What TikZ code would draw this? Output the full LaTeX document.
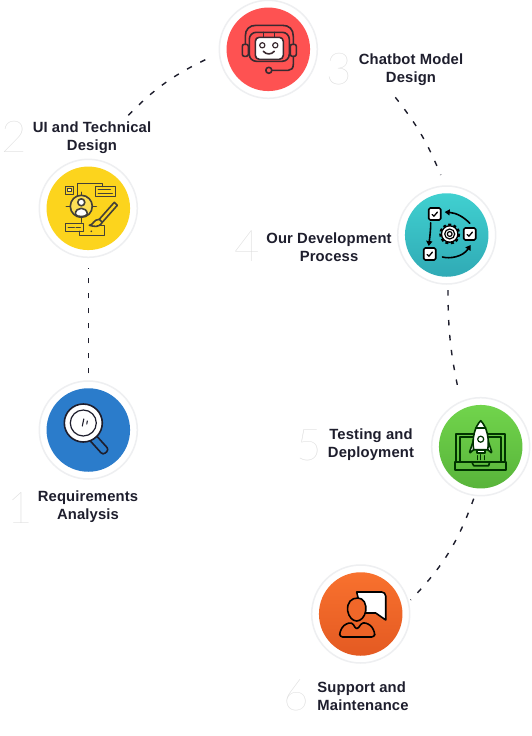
\documentclass[tikz,border=0pt]{standalone}
\usepackage{fontspec}
\usetikzlibrary{arrows.meta,calc}
\newfontfamily\lab[LetterSpace=1.0]{Liberation Sans}
\newfontfamily\numf[UprightFont=* Hairline]{Lato}
\definecolor{ink}{HTML}{1E1E2D}
\definecolor{ringc}{HTML}{EEEFF1}
\definecolor{numc}{HTML}{D8D8D8}
\tikzset{
 ring/.style={circle,draw=ringc,line width=1.5pt,fill=white,minimum size=98pt,inner sep=0pt},
 disc/.style={circle,minimum size=83.5pt,inner sep=0pt},
 conn/.style={ink,line width=1.4pt,dash pattern=on 5.5pt off 9.5pt},
 lbl/.style={font=\lab\bfseries\fontsize{14.8}{18}\selectfont,text=ink,align=center,inner sep=0pt},
 num/.style={font=\numf\fontsize{44}{44}\selectfont,text=numc,inner sep=0pt},
 ic/.style={line width=1.6pt,line join=round,line cap=round},
}
\begin{document}
\begin{tikzpicture}[x=1pt,y=-1pt]
\fill[white] (0,0) rectangle (531,736);
\useasboundingbox (0,0) rectangle (531,736);
% rings and discs
\node[ring] (req) at (88.3,430) {};
\node[disc,fill={rgb,255:red,43;green,124;blue,203}] (reqd) at (req.center) {};
\node[ring] (ui) at (88.3,208.3) {};
\node[disc,fill={rgb,255:red,252;green,212;blue,29}] (uid) at (ui.center) {};
\node[ring] (bot) at (268.3,49.3) {};
\node[disc,fill={rgb,255:red,254;green,82;blue,82}] (botd) at (bot.center) {};
\node[ring] (dev) at (446.7,235) {};
\node[disc,top color={rgb,255:red,64;green,208;blue,208},bottom color={rgb,255:red,48;green,170;blue,181}] (devd) at (dev.center) {};
\node[ring] (test) at (480.7,446.7) {};
\node[disc,top color={rgb,255:red,113;green,212;blue,76},bottom color={rgb,255:red,88;green,180;blue,58}] (testd) at (test.center) {};
\node[ring] (sup) at (360.7,614) {};
\node[disc,top color={rgb,255:red,248;green,113;blue,46},bottom color={rgb,255:red,228;green,90;blue,34}] (supd) at (sup.center) {};
% connector ends
\coordinate (uiOut) at ($(ui.center)+(40,-93)$);
\coordinate (botIn) at ($(bot.center)+(-60,9)$);
\coordinate (botOut) at ($(bot.center)+(127,48)$);
\coordinate (devIn) at ($(dev.center)+(-6,-60)$);
\coordinate (devOut) at ($(dev.center)+(1.3,55)$);
\coordinate (testIn) at ($(test.center)+(-21.7,-53.7)$);
\coordinate (testOut) at ($(test.center)+(-7,52)$);
\coordinate (supIn) at ($(sup.center)+(50,-14)$);
% connectors
\draw[conn,shorten <=7pt,shorten >=10pt] (req) -- (ui);
\draw[conn] (uiOut) to[bend left=10] (botIn);
\draw[conn] (botOut) to[bend left=8] (devIn);
\draw[conn] (devOut) to[bend right=6] (testIn);
\draw[conn] (testOut) to[bend left=12] (supIn);
% labels
\node[lbl] (l1) at (88,507) {Requirements\\Analysis};
\node[lbl] (l2) at (92,138) {UI and Technical\\Design};
\node[lbl] (l3) at (411,70) {Chatbot Model\\Design};
\node[lbl] (l4) at (329,247) {Our Development\\Process};
\node[lbl] (l5) at (371,445) {Testing and\\Deployment};
\node[lbl,align=left] (l6) at (363,696) {Support and\\Maintenance};
\node[num] (n1) at (20,508) {1};
\node[num] (n2) at (14,137) {2};
\node[num] (n3) at (339,69) {3};
\node[num] (n4) at (247,246) {4};
\node[num] (n5) at (309,445) {5};
\node[num] (n6) at (296,695) {6};
% icon: magnifier
\begin{scope}[shift={(req.center)},ic,draw=ink]
\draw[rounded corners=3pt,fill={rgb,255:red,43;green,124;blue,203},rotate around={42:(3,6)}] (-1,6) rectangle (7,28);
\draw[fill=white] (-5,-7) circle (19);
\draw[line width=1.2pt] (-5,-7) circle (13);
\draw[line width=1.1pt] (-6,-4) -- (-4.5,-11);
\draw[line width=1.1pt] (-1.5,-6) -- (-1,-9);
\end{scope}
% icon: UI design
\begin{scope}[shift={(ui.center)},ic,draw=black!85!yellow]
\draw (-23,-22) rectangle (-15,-14);
\draw[line width=1.2pt,fill=white,fill opacity=.6] (-21,-19.5) rectangle (-17,-16.5);
\draw (7,-22) rectangle (27,-12);
\draw (10,-19) -- (22,-19) (10,-15) -- (24,-15);
\draw (-11,-12) -- (-11,-25) -- (14,-25) -- (14,-22);
\draw[fill=white,fill opacity=.25] (-7,-2) circle (11);
\draw (-7,-13) -- (-7,-16) (-7,9) -- (-7,14);
\draw (-18,-2) -- (-22,-2) (4,-2) -- (8,-2);
\draw[fill=white] (-7,-6) circle (3.5);
\draw[fill=white] (-13,6) .. controls (-13,-2) and (-1,-2) .. (-1,6) .. controls (-3,9) and (-11,9) .. (-13,6);
\draw (-23,15) rectangle (-5,23);
\draw (-20,19) -- (-14,19) (-12,19) -- (-8,19);
\draw (-9,23) -- (-9,27) -- (16,27) -- (16,17) -- (10,17);
\fill[black!85!yellow] (3,23) circle (.9);
\draw (26,-6) -- (29,-3) -- (14,14) -- (11,11) -- cycle;
\draw (11,11) .. controls (5,11) and (5,17) .. (1,17) .. controls (6,18) and (10,20) .. (14,14);
\end{scope}
% icon: chatbot
\begin{scope}[shift={(bot.center)},ic,draw={rgb,255:red,58;green,42;blue,48}]
\draw (-23,-5) -- (-23,-13) .. controls (-23,-20) and (-19,-24) .. (-12,-24) -- (14,-24) .. controls (21,-24) and (25,-20) .. (25,-13) -- (25,-5);
\draw[rounded corners=7pt] (-19,-17) rectangle (21,12);
\draw[rounded corners=2pt] (-26,-5) rectangle (-20,7);
\draw[rounded corners=2pt] (22,-5) rectangle (28,7);
\draw (-5,-17) -- (-5,-12) (6,-17) -- (6,-12);
\draw[fill=white,rounded corners=4pt] (-13,-12) rectangle (15,10);
\draw[line width=1.2pt] (-6,-4) circle (2.6) (7,-4) circle (2.6);
\draw (-5,2) .. controls (-2,5.5) and (3,5.5) .. (6,2);
\draw (25,7) -- (25,15) .. controls (25,19) and (23,21) .. (20,21) -- (3.5,21);
\draw (0.5,21) circle (3);
\end{scope}
% icon: process
\begin{scope}[shift={(dev.center)},ic,draw=black]
\tikzset{chk/.style={draw=black,fill=white,rounded corners=1.5pt,line width=1.6pt,minimum size=12pt,inner sep=0pt}}
\foreach \nm/\p in {ca/{(-12,-21)},cb/{(23,-1)},cc/{(-17,19)}}{
 \node[chk] (\nm) at \p {};
 \draw[line width=1.3pt] ($(\nm)+(-2.5,.5)$) -- ($(\nm)+(-.8,2.2)$) -- ($(\nm)+(2.8,-2)$);
}
\draw[-{Stealth[length=5pt,width=6pt,inset=0pt]}] (cb.north) ++(0,-4) .. controls (17,-18) and (10,-22) .. (-2,-23);
\draw[-{Stealth[length=5pt,width=6pt,inset=0pt]}] (ca.south) ++(-4,2) .. controls (-16,-5) and (-17,3) .. (-18,11);
\draw[-{Stealth[length=5pt,width=6pt,inset=0pt]}] (cc.east) ++(6,3) .. controls (3,24) and (16,22) .. (24,10);
\draw[line width=3pt,dash pattern=on 2.8pt off 2.3pt,line cap=butt] (3,-1) circle (9);
\draw[fill=white,line width=1.3pt] (3,-1) circle (8.2);
\draw[line width=1.2pt] (3,-1) circle (5);
\draw[line width=1.2pt] (3,-1) circle (2.4);
\end{scope}
% icon: rocket and laptop
\begin{scope}[shift={(test.center)},ic,draw=black!80!green]
\draw (-25,15) -- (-25,-13) -- (24,-13) -- (24,15);
\draw (-21,15) -- (-21,-10) -- (20,-10) -- (20,15);
\draw (-26,15) rectangle (25,23);
\draw (-9,15) -- (-7,19) -- (8,19) -- (9,15);
\draw[fill=white] (-7,-7) -- (-11,5) -- (-10.5,6) -- (-6,2) -- cycle;
\draw[fill=white] (7,-7) -- (11,5) -- (10.5,6) -- (6,2) -- cycle;
\draw[fill=white] (-4,3) rectangle (4,6);
\draw[fill=white] (-7,3) .. controls (-9,-8) and (-6,-20) .. (0,-26) .. controls (6,-20) and (9,-8) .. (7,3) -- cycle;
\draw (-5,-19) -- (5,-19);
\draw[line width=1.2pt] (0,-7.5) circle (3);
\draw[line width=1.1pt] (-3.5,9) -- (-3.5,13) (0,8) -- (0,13) (3.5,9) -- (3.5,13);
\end{scope}
% icon: support
\begin{scope}[shift={(sup.center)},ic,draw=black]
\draw[fill=white,rounded corners=4pt] (-4,-22) -- (25,-22) -- (25,-5) [sharp corners] -- (25,6) -- (15,-1) -- (0,-1) -- (0,-5) -- cycle;
\draw[fill={rgb,255:red,240;green,103;blue,41}] (-13,-3) .. controls (-14,-12) and (-9,-16) .. (-3,-16) .. controls (3,-16) and (6,-10) .. (5,-3) .. controls (4,3) and (0,7) .. (-4,7) .. controls (-8,7) and (-12,3) .. (-13,-3) -- cycle;
\draw[fill={rgb,255:red,236;green,98;blue,38},rounded corners=3pt] (-9,8) -- (-4,16) -- (2,8) -- (10,11) -- (14,18) -- (14,23) -- (-21,23) -- (-21,18) -- (-17,11) -- cycle;
\end{scope}
\end{tikzpicture}
\end{document}
